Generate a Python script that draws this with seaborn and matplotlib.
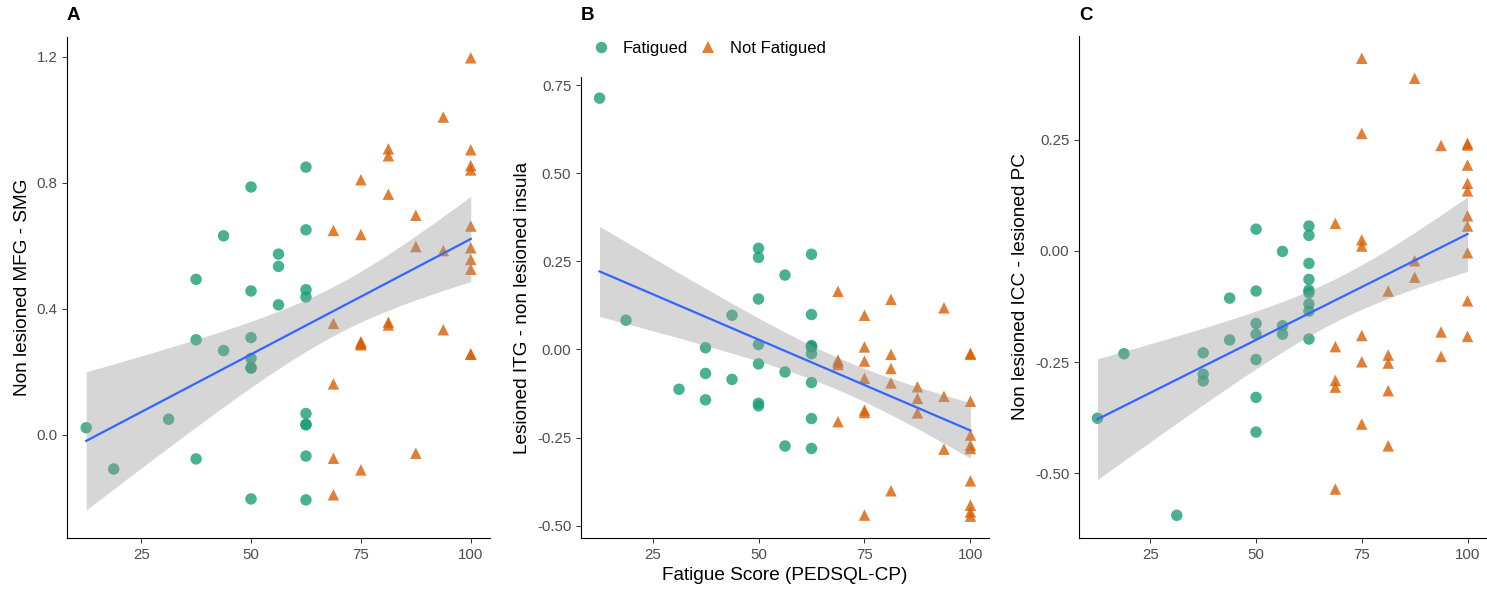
import numpy as np
import pandas as pd
import matplotlib
matplotlib.use("Agg")
import matplotlib.pyplot as plt
import seaborn as sns

# fatigue scores (PEDSQL-CP) of the two groups, same subjects in every panel
score_fat = [12.5, 18.75, 31.25, 37.5, 37.5, 37.5, 43.75, 43.75,
             50, 50, 50, 50, 50, 50, 50, 56.25, 56.25, 56.25,
             62.5, 62.5, 62.5, 62.5, 62.5, 62.5, 62.5, 62.5, 62.5]
score_nf = [68.75, 68.75, 68.75, 68.75, 68.75,
            75, 75, 75, 75, 75, 75, 75,
            81.25, 81.25, 81.25, 81.25, 81.25,
            87.5, 87.5, 87.5, 93.75, 93.75, 93.75,
            100, 100, 100, 100, 100, 100, 100, 100, 100, 100]

# A: Non lesioned MFG - SMG
mfg_fat = [0.023, -0.108, 0.050, 0.494, 0.302, -0.076, 0.632, 0.268,
           0.787, 0.457, 0.309, 0.243, 0.212, 0.214, -0.203, 0.574, 0.535, 0.413,
           0.850, 0.651, 0.461, 0.438, 0.068, 0.032, 0.034, -0.067, -0.206]
mfg_nf = [0.649, 0.354, 0.162, -0.074, -0.190,
          0.810, 0.636, 0.296, 0.292, 0.290, 0.286, -0.111,
          0.908, 0.886, 0.764, 0.358, 0.349,
          0.697, 0.598, -0.058, 1.009, 0.585, 0.334,
          1.197, 0.905, 0.855, 0.841, 0.663, 0.594, 0.557, 0.526, 0.257, 0.256]

# B: Lesioned ITG - non lesioned insula
itg_fat = [0.713, 0.083, -0.113, 0.005, -0.068, -0.143, 0.097, -0.085,
           0.287, 0.261, 0.143, 0.014, -0.041, -0.153, -0.160, 0.211, -0.064, -0.274,
           0.270, 0.099, 0.011, 0.008, 0.006, -0.012, -0.094, -0.196, -0.281]
itg_nf = [0.165, -0.030, -0.036, -0.043, -0.205,
          0.097, 0.007, -0.033, -0.082, -0.172, -0.179, -0.470,
          0.142, -0.014, -0.054, -0.095, -0.401,
          -0.106, -0.139, -0.180, 0.118, -0.133, -0.283,
          -0.011, -0.014, -0.147, -0.243, -0.272, -0.281, -0.373, -0.442, -0.461, -0.473]

# C: Non lesioned ICC - lesioned PC
icc_fat = [-0.376, -0.231, -0.594, -0.229, -0.277, -0.292, -0.106, -0.200,
           0.049, -0.090, -0.163, -0.187, -0.244, -0.329, -0.407, -0.001, -0.168, -0.187,
           0.056, 0.035, -0.028, -0.064, -0.088, -0.094, -0.119, -0.135, -0.198]
icc_nf = [0.062, -0.215, -0.291, -0.306, -0.535,
          0.433, 0.264, 0.025, 0.011, -0.190, -0.249, -0.389,
          -0.090, -0.234, -0.252, -0.314, -0.438,
          0.388, -0.022, -0.059, 0.237, -0.182, -0.237,
          0.242, 0.238, 0.193, 0.152, 0.135, 0.079, 0.056, -0.004, -0.112, -0.192]

x_ticks = [25, 50, 75, 100]

plt.rcParams["font.family"] = ["Liberation Sans", "DejaVu Sans"]

FAT_COL = "#1b9e77"
NF_COL = "#d95f02"
T975 = 2.0017  # t quantile, 58 df


def lm_band(x, y, grid):
    # 95% confidence band of the OLS mean, like geom_smooth(method="lm")
    x = np.asarray(x, float)
    y = np.asarray(y, float)
    n = len(x)
    slope, icpt = np.polyfit(x, y, 1)
    resid = y - (icpt + slope * x)
    s = np.sqrt(np.sum(resid ** 2) / (n - 2))
    sxx = np.sum((x - x.mean()) ** 2)
    fit = icpt + slope * grid
    se = s * np.sqrt(1 / n + (grid - x.mean()) ** 2 / sxx)
    return fit - T975 * se, fit + T975 * se


panels = [
    # letter, fat, nf, ylabel, yticks, fmt, ylim, axes rect (px: left, top, right, bottom)
    ("A", mfg_fat, mfg_nf, "Non lesioned MFG - SMG", [0.0, 0.4, 0.8, 1.2], "{:.1f}",
     (-0.327, 1.263), (67, 37, 490, 538)),
    ("B", itg_fat, itg_nf, "Lesioned ITG - non lesioned insula",
     [-0.50, -0.25, 0.00, 0.25, 0.50, 0.75], "{:.2f}", (-0.535, 0.773), (581, 77, 989, 538)),
    ("C", icc_fat, icc_nf, "Non lesioned ICC - lesioned PC",
     [-0.50, -0.25, 0.00, 0.25], "{:.2f}", (-0.645, 0.483), (1079, 36, 1486, 538)),
]

W, H = 1487, 590
fig = plt.figure(figsize=(W / 100, H / 100), dpi=100)

for letter, yf, yn, ylab, yt, fmt, ylim, (l, t, r, b) in panels:
    ax = fig.add_axes([l / W, 1 - b / H, (r - l) / W, (b - t) / H])
    df = pd.DataFrame({
        "score": score_fat + score_nf,
        "value": yf + yn,
        "group": ["Fatigued"] * len(yf) + ["Not Fatigued"] * len(yn),
    })
    sns.scatterplot(data=df, x="score", y="value", hue="group", style="group",
                    markers={"Fatigued": "o", "Not Fatigued": "^"},
                    palette={"Fatigued": FAT_COL, "Not Fatigued": NF_COL},
                    s=68, alpha=0.8, linewidth=0, ax=ax, legend=(letter == "B"))

    grid = np.linspace(df["score"].min(), df["score"].max(), 80)
    lo, hi = lm_band(df["score"], df["value"], grid)
    ax.fill_between(grid, lo, hi, color="#999999", alpha=0.4, linewidth=0)
    sns.regplot(data=df, x="score", y="value", scatter=False, ci=None,
                color="#3366FF", line_kws={"lw": 1.6}, ax=ax)

    ax.set_xlim(8.125, 104.375)
    ax.set_ylim(*ylim)
    ax.set_xticks(x_ticks)
    ax.set_xticklabels([str(v) for v in x_ticks])
    ax.set_yticks(yt)
    ax.set_yticklabels([fmt.format(v) for v in yt])
    ax.spines["top"].set_visible(False)
    ax.spines["right"].set_visible(False)
    for sp in ("left", "bottom"):
        ax.spines[sp].set_linewidth(0.8)
        ax.spines[sp].set_color("black")
    ax.tick_params(direction="out", length=3.5, width=0.7, color="#333333",
                   labelcolor="#4d4d4d", labelsize=10.8)
    ax.set_ylabel(ylab, fontsize=13.7, color="black")
    ax.set_xlabel("Fatigue Score (PEDSQL-CP)" if letter == "B" else "",
                  fontsize=13.7, color="black")

    fig.text(l / W, 1 - 16 / H, letter, fontsize=13.5, fontweight="bold",
             ha="left", va="center")

    if letter == "B":
        handles, labels = ax.get_legend_handles_labels()
        ax.get_legend().remove()
        for hd in handles:
            hd.set_alpha(0.8)
        fig.legend(handles, labels, loc="center left",
                   bbox_to_anchor=(593 / W, 1 - 48 / H), ncol=2, frameon=False,
                   fontsize=12, borderpad=0, borderaxespad=0, handlelength=1,
                   handletextpad=0.8, columnspacing=0.7)

fig.savefig("out.png", dpi=100)
